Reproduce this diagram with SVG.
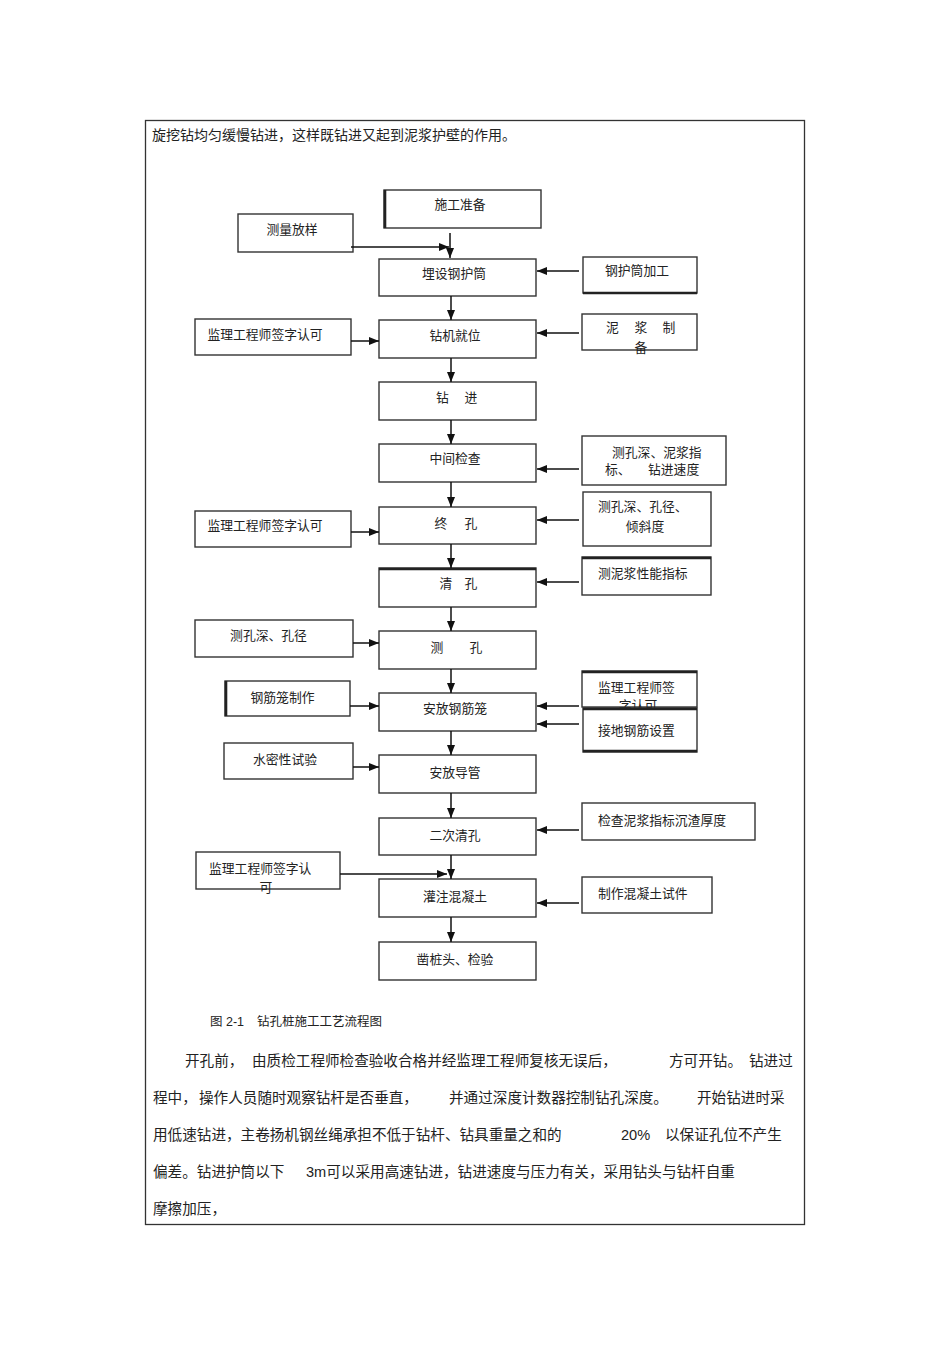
<svg xmlns="http://www.w3.org/2000/svg" width="950" height="1345" viewBox="0 0 950 1345">
<defs>
<marker id="ah" markerUnits="userSpaceOnUse" markerWidth="10" markerHeight="8" refX="10" refY="4" orient="auto">
<path d="M0,0 L10,4 L0,8 z" fill="#111"/>
</marker>
<style>
.bx{fill:#fff;stroke:#333;stroke-width:1.4}
.t{font-family:"Liberation Sans","Noto Sans CJK SC",sans-serif;font-size:12.8px;fill:#222}
.m{text-anchor:middle}
.p{font-family:"Liberation Sans","Noto Sans CJK SC",sans-serif;font-size:14.6px;fill:#222}
.c{stroke:#111;stroke-width:1.5;fill:none;marker-end:url(#ah)}
.thk{stroke:#222;stroke-width:2.6}
</style>
</defs>
<rect width="950" height="1345" fill="#fff"/>
<rect x="145.5" y="120.5" width="659" height="1104" fill="none" stroke="#333" stroke-width="1.3"/>
<text class="p" x="152" y="140" style="font-size:14px">旋挖钻均匀缓慢钻进，这样既钻进又起到泥浆护壁的作用。</text>

<g id="n1"><rect class="bx" x="384" y="190" width="157" height="38"/><line class="thk" x1="385" y1="190" x2="385" y2="228"/><text class="t m" x="460" y="208.5">施工准备</text></g>
<g id="n2"><rect class="bx" x="238" y="214" width="115" height="38"/><text class="t m" x="292" y="233.5">测量放样</text></g>
<g id="n3"><rect class="bx" x="379" y="259" width="157" height="37"/><text class="t m" x="454" y="277.5">埋设钢护筒</text></g>
<g id="n4"><rect class="bx" x="583" y="257" width="114" height="36"/><line class="thk" x1="583" y1="293" x2="697" y2="293"/><text class="t m" x="637" y="274.5">钢护筒加工</text></g>
<g id="n5"><rect class="bx" x="195" y="319" width="156" height="36"/><text class="t m" x="265" y="338.5">监理工程师签字认可</text></g>
<g id="n6"><rect class="bx" x="379" y="320" width="157" height="38"/><text class="t m" x="455" y="339.5">钻机就位</text></g>
<g id="n7"><rect class="bx" x="582" y="314" width="115" height="36"/><text class="t m" x="612.5" y="331.5">泥</text><text class="t m" x="641" y="331.5">浆</text><text class="t m" x="669" y="331.5">制</text><text class="t m" x="641" y="351.5">备</text></g>
<g id="n8"><rect class="bx" x="379" y="382" width="157" height="38"/><text class="t m" x="442.5" y="401.5">钻</text><text class="t m" x="471" y="401.5">进</text></g>
<g id="n9"><rect class="bx" x="379" y="444" width="157" height="38"/><text class="t m" x="455" y="462.5">中间检查</text></g>
<g id="n10"><rect class="bx" x="582" y="436" width="144" height="49"/><text class="t" x="612" y="456.5">测孔深、泥浆指</text><text class="t" x="605" y="473.5">标、</text><text class="t" x="648" y="473.5">钻进速度</text></g>
<g id="n11"><rect class="bx" x="195" y="511" width="156" height="36"/><text class="t m" x="265" y="529.5">监理工程师签字认可</text></g>
<g id="n12"><rect class="bx" x="379" y="507" width="157" height="37"/><text class="t m" x="441" y="527.5">终</text><text class="t m" x="471" y="527.5">孔</text></g>
<g id="n13"><rect class="bx" x="583" y="492" width="128" height="54"/><text class="t" x="598" y="510.5">测孔深、孔径、</text><text class="t m" x="645" y="530.5">倾斜度</text></g>
<g id="n14"><rect class="bx" x="379" y="568" width="157" height="39"/><line class="thk" x1="379" y1="569" x2="536" y2="569"/><text class="t m" x="446" y="587.5">清</text><text class="t m" x="471" y="587.5">孔</text></g>
<g id="n15"><rect class="bx" x="582" y="557" width="129" height="38"/><line class="thk" x1="582" y1="558" x2="711" y2="558"/><text class="t" x="598" y="577.5">测泥浆性能指标</text></g>
<g id="n16"><rect class="bx" x="195" y="620" width="158" height="37"/><text class="t m" x="268.5" y="639.5">测孔深、孔径</text></g>
<g id="n17"><rect class="bx" x="379" y="631" width="157" height="38"/><text class="t m" x="437" y="651.5">测</text><text class="t m" x="476" y="651.5">孔</text></g>
<g id="n18"><rect class="bx" x="225" y="681" width="125" height="35"/><line class="thk" x1="226" y1="681" x2="226" y2="716"/><text class="t m" x="282.5" y="701.5">钢筋笼制作</text></g>
<g id="n19"><rect class="bx" x="379" y="693" width="157" height="38"/><text class="t m" x="455" y="712.5">安放钢筋笼</text></g>
<g id="n20"><rect class="bx" x="582" y="671" width="115" height="36"/><line class="thk" x1="582" y1="672" x2="697" y2="672"/><text class="t" x="598" y="691.5">监理工程师签</text><text class="t m" x="638" y="709.5">字认可</text></g>
<g id="n21"><rect class="bx" x="583" y="708" width="114" height="44"/><line class="thk" x1="583" y1="709" x2="697" y2="709"/><line class="thk" x1="583" y1="751" x2="697" y2="751"/><text class="t" x="598" y="734.5">接地钢筋设置</text></g>
<g id="n22"><rect class="bx" x="224" y="743" width="129" height="36"/><text class="t m" x="285" y="763.5">水密性试验</text></g>
<g id="n23"><rect class="bx" x="379" y="755" width="157" height="38"/><text class="t m" x="455" y="776.5">安放导管</text></g>
<g id="n24"><rect class="bx" x="582" y="803" width="173" height="37"/><text class="t" x="598" y="824.5">检查泥浆指标沉渣厚度</text></g>
<g id="n25"><rect class="bx" x="379" y="818" width="157" height="37"/><text class="t m" x="455" y="839.5">二次清孔</text></g>
<g id="n26"><rect class="bx" x="196" y="852" width="144" height="37"/><text class="t" x="209" y="872.5">监理工程师签字认</text><text class="t m" x="266" y="891.5">可</text></g>
<g id="n27"><rect class="bx" x="379" y="879" width="157" height="38"/><text class="t m" x="455" y="900.5">灌注混凝土</text></g>
<g id="n28"><rect class="bx" x="582" y="877" width="130" height="36"/><text class="t" x="598" y="897.5">制作混凝土试件</text></g>
<g id="n29"><rect class="bx" x="379" y="942" width="157" height="38"/><text class="t m" x="455" y="963.5">凿桩头、检验</text></g>

<g id="connectors">
<line class="c" x1="450" y1="233" x2="450" y2="258"/>
<line class="c" x1="351" y1="247" x2="449" y2="247"/>
<line class="c" x1="451" y1="296" x2="451" y2="320"/>
<line class="c" x1="451" y1="358" x2="451" y2="382"/>
<line class="c" x1="451" y1="420" x2="451" y2="444"/>
<line class="c" x1="451" y1="482" x2="451" y2="507"/>
<line class="c" x1="451" y1="544" x2="451" y2="568"/>
<line class="c" x1="451" y1="607" x2="451" y2="631"/>
<line class="c" x1="451" y1="669" x2="451" y2="693"/>
<line class="c" x1="451" y1="731" x2="451" y2="755"/>
<line class="c" x1="451" y1="793" x2="451" y2="818"/>
<line class="c" x1="451" y1="855" x2="451" y2="879"/>
<line class="c" x1="451" y1="917" x2="451" y2="942"/>
<line class="c" x1="579" y1="271" x2="537" y2="271"/>
<line class="c" x1="351" y1="341" x2="379" y2="341"/>
<line class="c" x1="579" y1="333" x2="537" y2="333"/>
<line class="c" x1="579" y1="469" x2="537" y2="469"/>
<line class="c" x1="351" y1="532" x2="379" y2="532"/>
<line class="c" x1="579" y1="520" x2="537" y2="520"/>
<line class="c" x1="579" y1="582" x2="537" y2="582"/>
<line class="c" x1="353" y1="643" x2="379" y2="643"/>
<line class="c" x1="350" y1="706" x2="379" y2="706"/>
<line class="c" x1="579" y1="706" x2="537" y2="706"/>
<line class="c" x1="579" y1="724" x2="537" y2="724"/>
<line class="c" x1="353" y1="767" x2="379" y2="767"/>
<line class="c" x1="579" y1="830" x2="537" y2="830"/>
<line class="c" x1="340" y1="874" x2="447" y2="874"/>
<line class="c" x1="579" y1="903" x2="537" y2="903"/>
</g>

<text class="t" x="210" y="1026" style="font-size:12.5px">图 2-1</text>
<text class="t" x="257" y="1026" style="font-size:12.5px">钻孔桩施工工艺流程图</text>

<text class="p" x="185" y="1066">开孔前，</text>
<text class="p" x="252" y="1066">由质检工程师检查验收合格并经监理工程师复核无误后，</text>
<text class="p" x="669" y="1066">方可开钻。</text>
<text class="p" x="749" y="1066">钻进过</text>
<text class="p" x="153" y="1103">程中，</text>
<text class="p" x="199" y="1103">操作人员随时观察钻杆是否垂直，</text>
<text class="p" x="449" y="1103">并通过深度计数器控制钻孔深度。</text>
<text class="p" x="697" y="1103">开始钻进时采</text>
<text class="p" x="153" y="1140">用低速钻进，主卷扬机钢丝绳承担不低于钻杆、钻具重量之和的</text>
<text class="p" x="621" y="1140">20%</text>
<text class="p" x="665" y="1140">以保证孔位不产生</text>
<text class="p" x="153" y="1177">偏差。钻进护筒以下</text>
<text class="p" x="306" y="1177">3m可以采用高速钻进，钻进速度与压力有关，采用钻头与钻杆自重</text>
<text class="p" x="153" y="1214">摩擦加压，</text>
</svg>
